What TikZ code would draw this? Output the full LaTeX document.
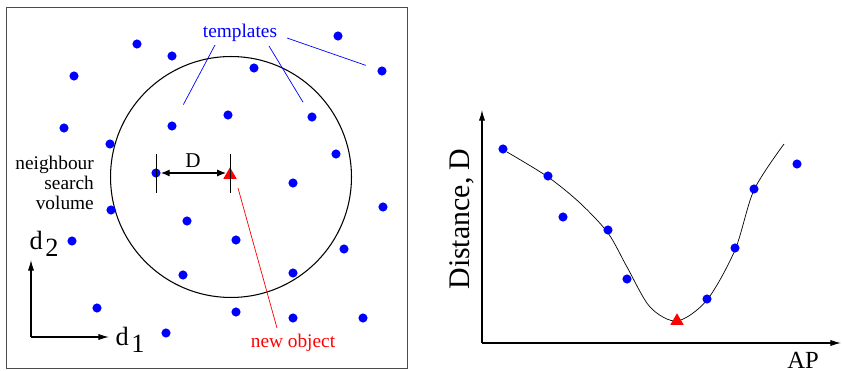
\documentclass[tikz,border=0pt]{standalone}
\usepackage{fontspec}
\setmainfont{Liberation Serif}
\usetikzlibrary{arrows.meta,calc,shapes.geometric}
\tikzset{
  punto/.style={
    circle,
    fill=blue,
    inner sep=0pt,
    minimum size=5.2pt
  },
  nuevo/.style={
    regular polygon,
    regular polygon sides=3,
    fill=red,
    inner sep=0pt,
    minimum size=8.8pt
  },
  etiqueta/.style={
    font=\fontsize{11}{11.5}\selectfont
  },
  eje/.style={
    -{Latex[length=6pt,width=3.5pt]},
    semithick
  },
  cota/.style={
    {Latex[length=5pt,width=4pt]}-{Latex[length=5pt,width=4pt]},
    semithick
  },
  guia/.style={
    blue,
    thin
  }
}

\begin{document}
\begin{tikzpicture}[x=0.02cm,y=-0.02cm]
\useasboundingbox (0,0) rectangle (842,371);
% left panel: feature space
\draw[black!70] (6,7) rectangle (407,368);
\draw[semithick] (231,177) circle[radius=2.41cm];
\foreach \x/\y [count=\i] in {137/44,172/56,74/76,254/68,338/36,382/71,64/128,
  172/126,228/115,312/117,110/144,336/154,156/173,293/183,383/207,111/210,
  187/221,236/240,72/241,344/249,183/275,293/273,97/308,236/312,293/318,
  363/318,166/333}
  \node[punto] (p\i) at (\x,\y) {};
\node[nuevo] (obj) at (230,175) {};
\node[etiqueta,blue] (tmpl) at (240,33) {templates};
\draw[guia,shorten >=11pt] ($(tmpl)+(-25,12)$) -- (p8);
\draw[guia,shorten >=7pt] ($(tmpl)+(29,13)$) -- (p10);
\draw[guia,shorten >=7pt] ($(tmpl)+(47,5)$) -- (p6);
\node[etiqueta,align=right,anchor=east] (nsv) at (100,183) {neighbour\\search\\volume};
% distance D
\draw[thin] ($(p13)+(0,-19)$) -- ++(0,39);
\draw[thin] ($(obj.center |- p13)+(0,-19)$) -- ++(0,39);
\draw[cota] (p13.east) -- ($(obj.center |- p13)+(-4,0)$);
\node[font=\fontsize{12}{14}\selectfont] (dlab) at (193,161) {D};
\node[etiqueta,red] (newobj) at (293,343) {new object};
\draw[red,thin] ($(obj)+(8,13)$) -- ($(newobj.north)+(-16,0)$);
% axes d1, d2
\coordinate (o) at (31,337);
\coordinate (d2tip) at (31,260);
\coordinate (d1tip) at (109,337);
\draw[eje] (o) -- (d2tip);
\draw[eje] (o) -- (d1tip);
\node[font=\fontsize{15}{17}\selectfont] (d2) at (44,244) {d\kern1.5pt\raisebox{-0.55ex}{2}};
\node[font=\fontsize{15}{17}\selectfont] (d1) at (130,340) {d\kern1.5pt\raisebox{-0.55ex}{1}};
% right panel: distance against AP
\coordinate (ao) at (482,343);
\coordinate (ytip) at (482,110);
\coordinate (xtip) at (841,343);
\draw[eje] (ao) -- (ytip);
\draw[eje] (ao) -- (xtip);
\node[font=\fontsize{17}{19}\selectfont,rotate=90] (ylab) at (462,219) {Distance, D};
\node[font=\fontsize{14}{16}\selectfont] (xlab) at (803,360) {AP};
\draw[thin] plot[smooth] coordinates {(507,152) (548,177) (580,203) (608,233)
  (627,267) (650,307) (677,321) (707,300) (735,250) (754,190) (784,144)};
\foreach \x/\y [count=\i] in {503/149,548/176,563/217,608/230,627/279,
  707/299,735/248,754/189,797/164}
  \node[punto] (q\i) at (\x,\y) {};
\node[nuevo] (obj2) at (677,321) {};
\end{tikzpicture}
\end{document}
